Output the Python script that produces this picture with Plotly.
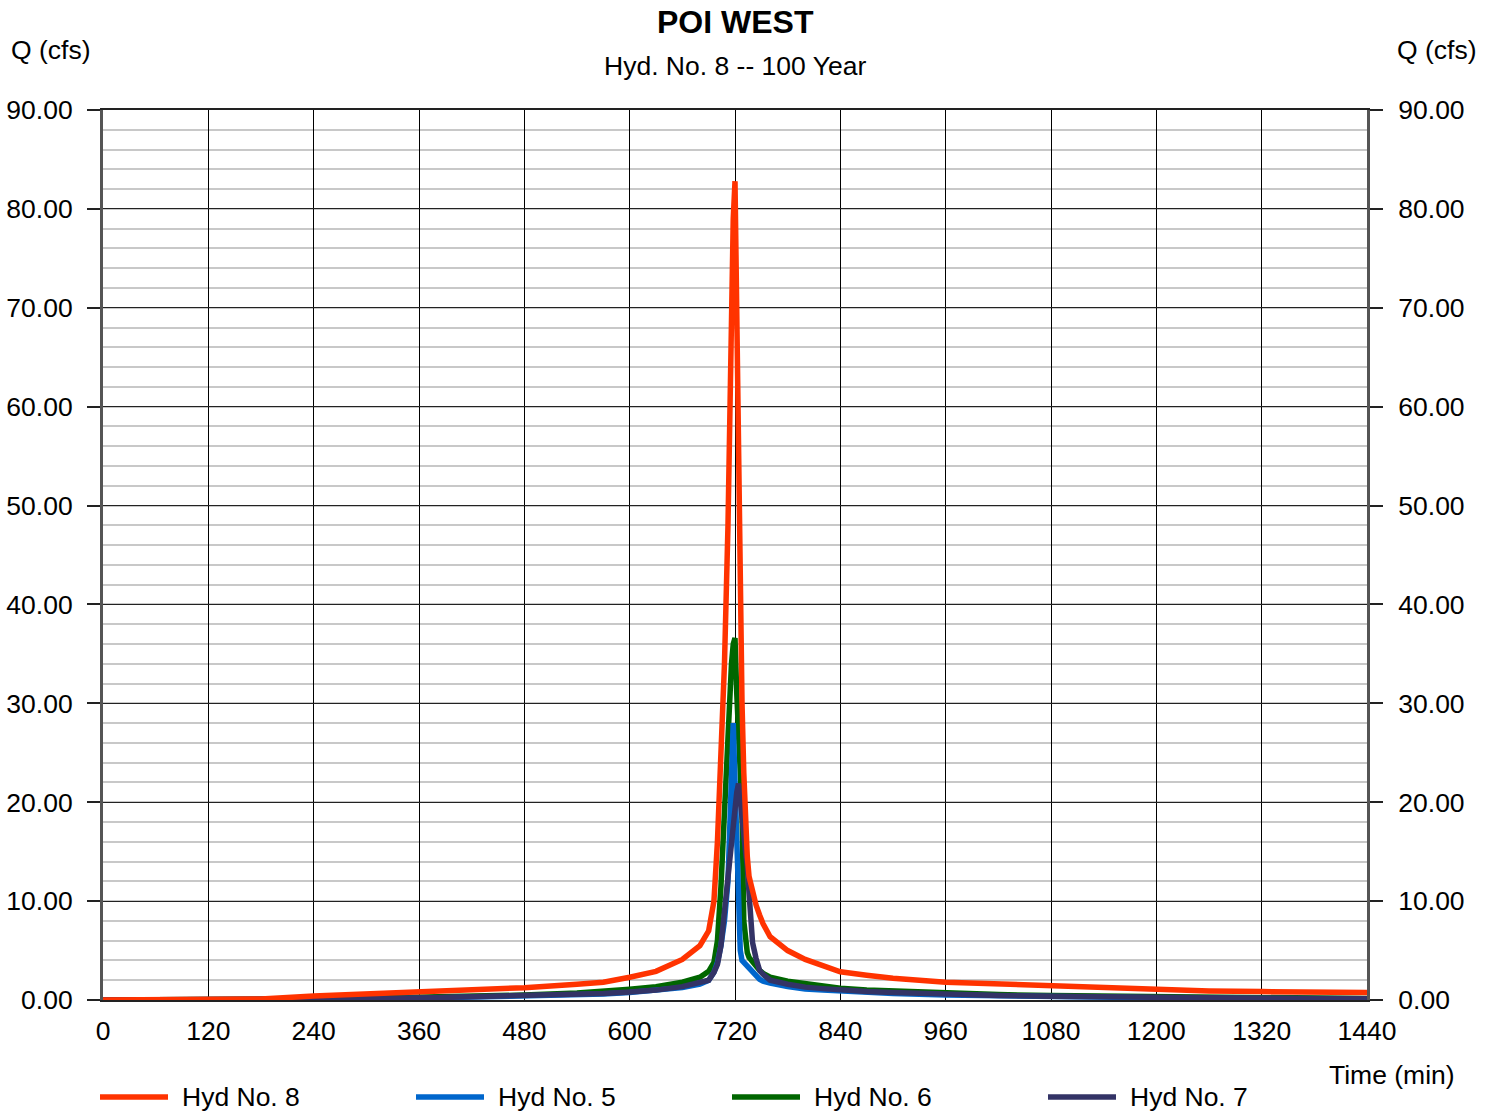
import plotly.graph_objects as go

# ---- data ----
time_min = [0, 60, 120, 180, 240, 300, 360, 420, 480, 540,
            570, 600, 630, 660, 680, 690, 696, 700, 704, 708,
            712, 716, 718, 720, 722, 724, 726, 728, 730, 732,
            734, 736, 740, 744, 748, 752, 760, 780, 800, 820,
            840, 870, 900, 960, 1020, 1080, 1140, 1200, 1260, 1320,
            1380, 1440]

hyd8 = [0, 0, 0.02, 0.1, 0.4, 0.6, 0.82, 1.0, 1.25, 1.6,
        1.8, 2.3, 2.9, 4.1, 5.5, 7.0, 10.0, 16.0, 25.0, 34.0,
        48.0, 72.0, 79.0, 82.8, 68.0, 50.0, 40.0, 30.0, 23.0, 18.0,
        14.5, 12.5, 10.8, 9.6, 8.6, 7.7, 6.4, 5.0, 4.1, 3.4,
        2.85, 2.5, 2.2, 1.8, 1.6, 1.4, 1.2, 1.0, 0.92, 0.85,
        0.8, 0.75]

hyd5 = [0, 0, 0, 0, 0.05, 0.1, 0.18, 0.27, 0.36, 0.5,
        0.6, 0.75, 0.95, 1.25, 1.6, 2.0, 2.8, 3.8, 5.5, 8.0,
        12.0, 21.0, 28.0, 22.0, 15.0, 9.0, 5.0, 4.0, 3.8, 3.7,
        3.4, 3.1, 2.7, 2.4, 2.1, 1.9, 1.7, 1.35, 1.1, 1.0,
        0.9, 0.75, 0.65, 0.5, 0.4, 0.33, 0.27, 0.22, 0.18, 0.15,
        0.13, 0.11]

hyd6 = [0, 0, 0, 0.02, 0.1, 0.18, 0.27, 0.38, 0.5, 0.7,
        0.85, 1.1, 1.35, 1.8, 2.3, 2.9, 3.8, 6.0, 11.5, 20.0,
        28.0, 34.0, 36.0, 36.6, 31.0, 26.0, 23.0, 19.0, 8.0, 5.5,
        4.8, 4.3, 3.8, 3.4, 3.0, 2.7, 2.3, 1.9, 1.65, 1.4,
        1.2, 1.0, 0.9, 0.7, 0.55, 0.45, 0.38, 0.3, 0.25, 0.2,
        0.17, 0.15]

hyd7 = [0, 0, 0, 0.01, 0.06, 0.12, 0.2, 0.3, 0.4, 0.55,
        0.65, 0.8, 1.0, 1.35, 1.7, 2.0, 2.8, 3.6, 5.5, 9.0,
        13.5, 16.5, 18.0, 19.5, 21.0, 21.9, 20.5, 18.5, 16.8, 15.0,
        13.5, 10.8, 5.8, 4.2, 3.0, 2.6, 2.0, 1.6, 1.3, 1.15,
        1.0, 0.85, 0.75, 0.55, 0.45, 0.38, 0.3, 0.25, 0.2, 0.17,
        0.15, 0.13]

x_ticks = [0, 120, 240, 360, 480, 600, 720, 840, 960, 1080, 1200, 1320, 1440]
y_ticks = [0, 10, 20, 30, 40, 50, 60, 70, 80, 90]
y_ticklabels = ["%.2f" % v for v in y_ticks]

legend_names = ["Hyd No. 8", "Hyd No. 5", "Hyd No. 6", "Hyd No. 7"]
legend_colors = ["#FF3300", "#0066CC", "#006600", "#333366"]

FONT = "Liberation Sans, Arial, sans-serif"
FS = 26.5
W = 5.5

# plot area in pixels (for paper-coordinate conversion of text placement)
L, R, T, B = 103, 1367, 110, 1000
PW, PH = R - L, B - T


def px_x(p):
    return (p - L) / PW


def px_y(p):
    return (B - p) / PH


fig = go.Figure()
# draw order: green, blue, navy, orange (on top)
fig.add_trace(go.Scatter(x=time_min, y=hyd6, mode="lines", name="Hyd No. 6",
                         line=dict(color="#006600", width=W)))
fig.add_trace(go.Scatter(x=time_min, y=hyd5, mode="lines", name="Hyd No. 5",
                         line=dict(color="#0066CC", width=W)))
fig.add_trace(go.Scatter(x=time_min, y=hyd7, mode="lines", name="Hyd No. 7",
                         line=dict(color="#333366", width=W)))
fig.add_trace(go.Scatter(x=time_min, y=hyd8, mode="lines", name="Hyd No. 8",
                         line=dict(color="#FF3300", width=W), yaxis="y2"))

shapes = []
annotations = [
    dict(text="<b>POI WEST</b>", x=0.5, y=px_y(22), xref="paper", yref="paper",
         showarrow=False, font=dict(size=32, family=FONT), xanchor="center", yanchor="middle"),
    dict(text="Hyd. No. 8 -- 100 Year", x=0.5, y=px_y(66), xref="paper", yref="paper",
         showarrow=False, font=dict(size=FS, family=FONT), xanchor="center", yanchor="middle"),
    dict(text="Q (cfs)", x=px_x(51), y=px_y(50), xref="paper", yref="paper",
         showarrow=False, font=dict(size=FS, family=FONT), xanchor="center", yanchor="middle"),
    dict(text="Q (cfs)", x=px_x(1437), y=px_y(50), xref="paper", yref="paper",
         showarrow=False, font=dict(size=FS, family=FONT), xanchor="center", yanchor="middle"),
    dict(text="Time (min)", x=px_x(1392), y=px_y(1075), xref="paper", yref="paper",
         showarrow=False, font=dict(size=FS, family=FONT), xanchor="center", yanchor="middle"),
]
# legend drawn as line samples + labels in a single row
for i, (name, col) in enumerate(zip(legend_names, legend_colors)):
    x0 = 100 + 316 * i
    shapes.append(dict(type="line", xref="paper", yref="paper",
                       x0=px_x(x0), x1=px_x(x0 + 68), y0=px_y(1097), y1=px_y(1097),
                       line=dict(color=col, width=W)))
    annotations.append(dict(text=name, x=px_x(x0 + 80), y=px_y(1097), xref="paper", yref="paper",
                            showarrow=False, font=dict(size=FS, family=FONT),
                            xanchor="left", yanchor="middle"))

fig.update_layout(
    width=1497, height=1112,
    margin=dict(l=L, r=1497 - R, t=T, b=1112 - B, autoexpand=False),
    paper_bgcolor="white", plot_bgcolor="white",
    font=dict(family=FONT, size=FS, color="black"),
    showlegend=False,
    xaxis=dict(range=[0, 1440], tickvals=x_ticks, ticktext=[str(v) for v in x_ticks],
               showgrid=True, gridcolor="black", gridwidth=1,
               showline=True, linecolor="#222", linewidth=2, mirror=True,
               ticks="", ticklabelstandoff=6, zeroline=False,
               tickfont=dict(size=FS, family=FONT)),
    yaxis=dict(range=[0, 90], tickvals=y_ticks, ticktext=y_ticklabels,
               showgrid=True, gridcolor="#222", gridwidth=1.2,
               minor=dict(dtick=2, tick0=0, showgrid=True, gridcolor="#c8c8c8", gridwidth=2, ticks=""),
               showline=True, linecolor="#555", linewidth=3,
               ticks="outside", ticklen=13, tickcolor="#222", tickwidth=1.5,
               ticklabelstandoff=9,
               zeroline=False, tickfont=dict(size=FS, family=FONT)),
    yaxis2=dict(range=[0, 90], overlaying="y", side="right",
                tickvals=y_ticks, ticktext=y_ticklabels, showgrid=False,
                showline=True, linecolor="#555", linewidth=3,
                ticks="outside", ticklen=13, tickcolor="#222", tickwidth=1.5,
                ticklabelstandoff=10,
                zeroline=False, tickfont=dict(size=FS, family=FONT)),
    shapes=shapes,
    annotations=annotations,
)

fig.write_html("out.html", config={"displayModeBar": False},
               post_script="document.body.style.margin='0';document.body.style.overflow='hidden';")
